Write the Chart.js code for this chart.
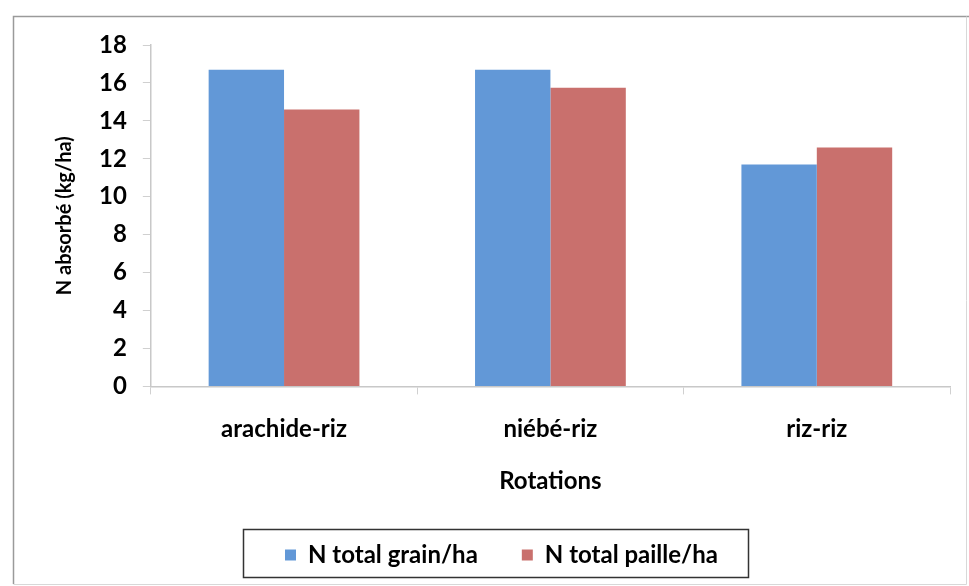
<!DOCTYPE html>
<html>
<head>
<meta charset="utf-8">
<script src="https://cdn.jsdelivr.net/npm/chart.js@4/dist/chart.umd.min.js"></script>
<style>
  html, body { margin: 0; padding: 0; background: #ffffff; }
  #wrap { width: 969px; height: 586px; position: relative; }
</style>
</head>
<body>
<div id="wrap"><canvas id="c" width="969" height="586"></canvas></div>
<script>
// Rotations and nitrogen uptake (kg/ha)
const categories = ['arachide-riz', 'niébé-riz', 'riz-riz'];
const seriesNames = ['N total grain/ha', 'N total paille/ha'];
const grainValues = [16.7, 16.7, 11.7];
const pailleValues = [14.6, 15.75, 12.6];
const yTicks = [0, 2, 4, 6, 8, 10, 12, 14, 16, 18];

const FONT = 'Lato, "Open Sans", sans-serif';

// Outer frame of the chart and box around the legend
const framePlugin = {
  id: 'frame',
  afterDraw(chart) {
    const ctx = chart.ctx;
    ctx.save();
    ctx.strokeStyle = '#9a9a9a';
    ctx.lineWidth = 1.5;
    ctx.beginPath();
    ctx.moveTo(13.5, 584);
    ctx.lineTo(13.5, 16.5);
    ctx.lineTo(969, 16.5);
    ctx.stroke();
    ctx.strokeStyle = '#d8d8d8';
    ctx.lineWidth = 1;
    ctx.beginPath();
    ctx.moveTo(966.5, 16.5);
    ctx.lineTo(966.5, 584.5);
    ctx.lineTo(13.5, 584.5);
    ctx.stroke();

    ctx.strokeStyle = '#333333';
    ctx.lineWidth = 1.5;
    ctx.strokeRect(243.5, 529.5, 505, 48);
    ctx.restore();
  }
};

new Chart(document.getElementById('c'), {
  type: 'bar',
  data: {
    labels: categories,
    datasets: [
      { label: seriesNames[0], data: grainValues, backgroundColor: '#6298d7', borderWidth: 0 },
      { label: seriesNames[1], data: pailleValues, backgroundColor: '#c9706d', borderWidth: 0 }
    ]
  },
  options: {
    responsive: false,
    animation: false,
    devicePixelRatio: 1,
    layout: { padding: { left: 53, right: 19, top: 45, bottom: 9 } },
    datasets: { bar: { barPercentage: 1.0, categoryPercentage: 0.566 } },
    plugins: {
      legend: {
        position: 'bottom',
        labels: {
          font: { family: FONT, size: 24, weight: 'bold' },
          color: '#000000',
          boxWidth: 11,
          boxHeight: 11,
          padding: 44
        }
      },
      tooltip: { enabled: false }
    },
    scales: {
      x: {
        grid: { display: true, drawOnChartArea: false, color: '#d0d0d0', tickLength: 8, offset: true },
        border: { color: '#c8c8c8', width: 1.5 },
        ticks: { font: { family: FONT, size: 24, weight: 'bold' }, color: '#000000', padding: 20 },
        title: { display: true, text: 'Rotations', font: { family: FONT, size: 24, weight: 'bold' }, color: '#000000', padding: { top: 4, bottom: 3 } }
      },
      y: {
        min: 0,
        max: 18,
        afterBuildTicks(scale) { scale.ticks = yTicks.map(v => ({ value: v })); },
        grid: { display: true, drawOnChartArea: false, color: '#d0d0d0', tickLength: 8 },
        border: { color: '#c8c8c8', width: 1.5 },
        ticks: { font: { family: FONT, size: 24, weight: 'bold' }, color: '#000000', padding: 16 },
        title: { display: true, text: 'N absorbé (kg/ha)', font: { family: FONT, size: 20, weight: 'bold' }, color: '#000000', padding: { top: 0, bottom: 6 } }
      }
    }
  },
  plugins: [framePlugin]
});
</script>
</body>
</html>
